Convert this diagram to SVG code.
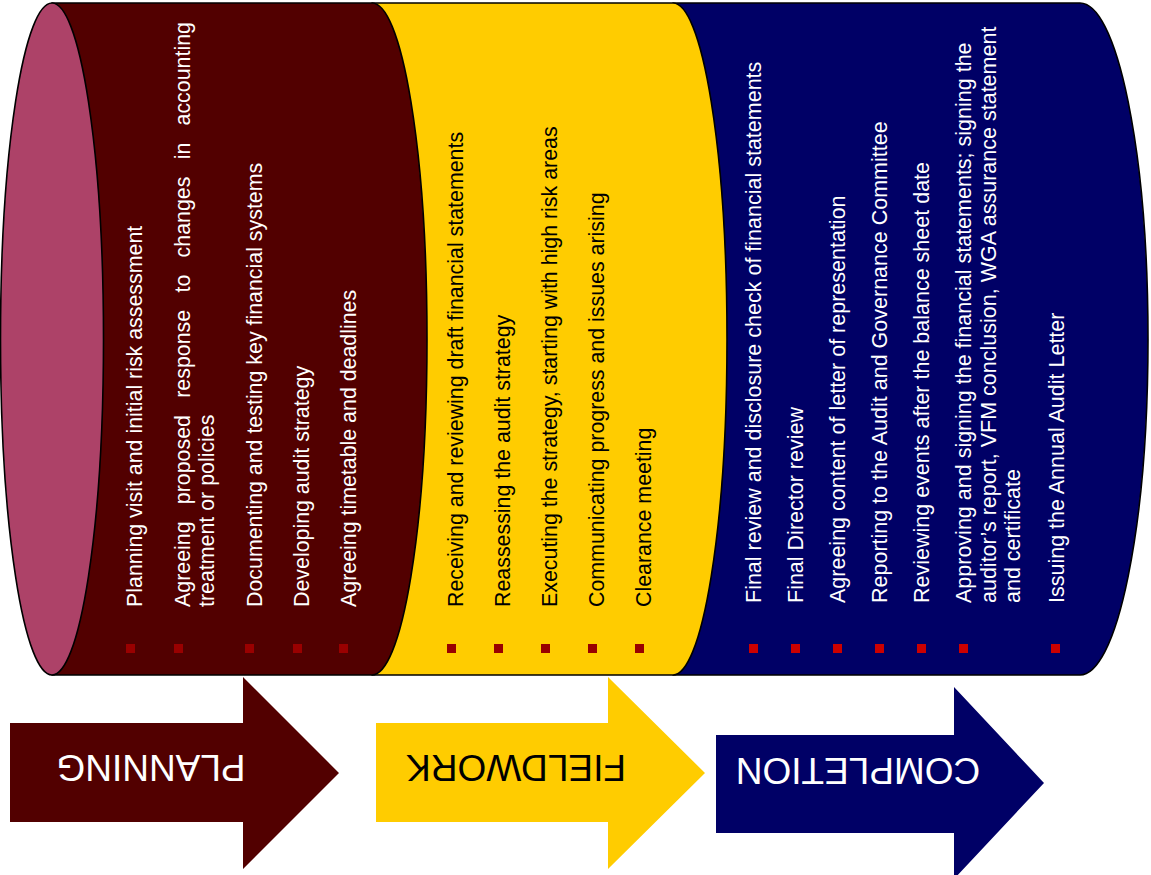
<svg xmlns="http://www.w3.org/2000/svg" width="1151" height="875" viewBox="0 0 1151 875">
<style>
.cyl{stroke:#000;stroke-width:1.6;stroke-linejoin:round}
.t{font-family:"Liberation Sans",Arial,sans-serif;font-size:23px}
.tn{font-family:"Liberation Sans",Arial,sans-serif;font-size:21.5px}
.w{fill:#fff}
.k{fill:#000}
.b1{fill:#990000}
.b2{fill:#cc0000}
.lbl{font-family:"Liberation Sans",Arial,sans-serif;font-size:37px;text-anchor:middle}
</style>
<rect width="1151" height="875" fill="#fff"/>
<g id="completion-cylinder">
<path class="cyl" fill="#000066" d="M673 3 H1080 A68 336 0 0 1 1080 675 H673 Z"/>
<g class="tn w">
<text transform="translate(761,603) rotate(-90)">Final review and disclosure check of financial statements</text>
<text transform="translate(803,603) rotate(-90)">Final Director review</text>
<text transform="translate(845,603) rotate(-90)">Agreeing content of letter of representation</text>
<text transform="translate(887,603) rotate(-90)">Reporting to the Audit and Governance Committee</text>
<text transform="translate(929,603) rotate(-90)">Reviewing events after the balance sheet date</text>
<text transform="translate(971,603) rotate(-90)"><tspan x="0" y="0">Approving and signing the financial statements; signing the</tspan><tspan x="0" y="24.5">auditor’s report, VFM conclusion, WGA assurance statement</tspan><tspan x="0" y="49">and certificate</tspan></text>
<text transform="translate(1064,603) rotate(-90)">Issuing the Annual Audit Letter</text>
</g>
<g class="b2">
<rect x="749" y="644" width="9" height="9"/>
<rect x="791" y="644" width="9" height="9"/>
<rect x="833" y="644" width="9" height="9"/>
<rect x="875" y="644" width="9" height="9"/>
<rect x="917" y="644" width="9" height="9"/>
<rect x="959" y="644" width="9" height="9"/>
<rect x="1051" y="644" width="9" height="9"/>
</g>
</g>
<g id="fieldwork-cylinder">
<path class="cyl" fill="#ffcc00" d="M372 3 H673 A54 336 0 0 1 673 675 H372 Z"/>
<g class="t k">
<text transform="translate(463,607) rotate(-90) scale(0.93,1)">Receiving and reviewing draft financial statements</text>
<text transform="translate(510,607) rotate(-90) scale(0.93,1)">Reassessing the audit strategy</text>
<text transform="translate(557,607) rotate(-90) scale(0.93,1)">Executing the strategy, starting with high risk areas</text>
<text transform="translate(604,607) rotate(-90) scale(0.93,1)">Communicating progress and issues arising</text>
<text transform="translate(651,607) rotate(-90) scale(0.93,1)">Clearance meeting</text>
</g>
<g class="b1">
<rect x="447" y="644" width="9" height="9"/>
<rect x="494" y="644" width="9" height="9"/>
<rect x="541" y="644" width="9" height="9"/>
<rect x="588" y="644" width="9" height="9"/>
<rect x="635" y="644" width="9" height="9"/>
</g>
</g>
<g id="planning-cylinder">
<path class="cyl" fill="#520000" d="M52 3 H372 A55 336 0 0 1 372 675 H52 Z"/>
<ellipse class="cyl" fill="#ad4268" cx="52" cy="339" rx="51.5" ry="336"/>
<g class="t w">
<text transform="translate(142,607) rotate(-90) scale(0.93,1)">Planning visit and initial risk assessment</text>
<text transform="translate(190,607) rotate(-90) scale(0.93,1)"><tspan x="0" y="0">Agreeing</tspan><tspan x="110.6" y="0">proposed</tspan><tspan x="225" y="0">response</tspan><tspan x="338.2" y="0">to</tspan><tspan x="375.9" y="0">changes</tspan><tspan x="481.4" y="0">in</tspan><tspan x="517.8" y="0">accounting</tspan><tspan x="0" y="24">treatment or policies</tspan></text>
<text transform="translate(262,607) rotate(-90) scale(0.93,1)">Documenting and testing key financial systems</text>
<text transform="translate(309,607) rotate(-90) scale(0.93,1)">Developing audit strategy</text>
<text transform="translate(356,607) rotate(-90) scale(0.93,1)">Agreeing timetable and deadlines</text>
</g>
<g class="b1">
<rect x="126" y="644" width="9" height="9"/>
<rect x="174" y="644" width="9" height="9"/>
<rect x="245" y="644" width="9" height="9"/>
<rect x="293" y="644" width="9" height="9"/>
<rect x="339" y="644" width="9" height="9"/>
</g>
</g>
<g id="connectors"/>
<g id="planning-arrow">
<path fill="#520000" d="M10 723 H243 V677 L339 773 L243 869 V822 H10 Z"/>
<text class="lbl w" transform="translate(151,755) rotate(180)">PLANNING</text>
</g>
<g id="fieldwork-arrow">
<path fill="#ffcc00" d="M376 723 H608 V677 L705 773 L608 869 V822 H376 Z"/>
<text class="lbl k" transform="translate(516,755) rotate(180)">FIELDWORK</text>
</g>
<g id="completion-arrow">
<path fill="#000066" d="M716 735 H954 V687 L1044 783 L954 879 V833 H716 Z"/>
<text class="lbl w" transform="translate(858,758) rotate(180)">COMPLETION</text>
</g>
</svg>
